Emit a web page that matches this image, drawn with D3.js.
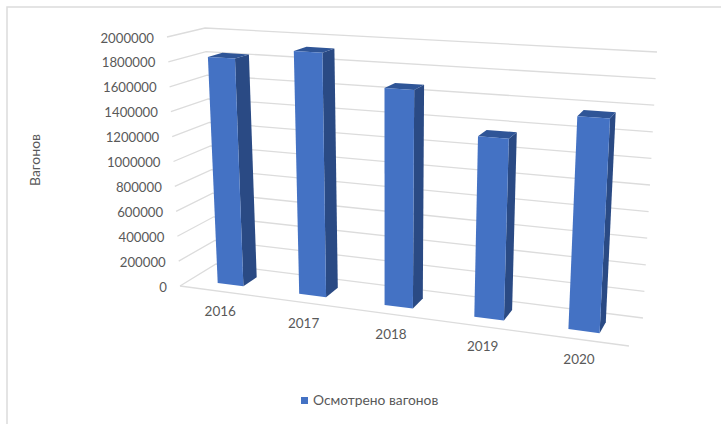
<!DOCTYPE html>
<html>
<head>
<meta charset="utf-8">
<script src="https://cdn.jsdelivr.net/npm/d3@7/dist/d3.min.js"></script>
<style>
html,body{margin:0;padding:0;background:#fff;}
svg{display:block;}
text{font-family:Lato,"Open Sans",sans-serif;fill:#595959;}
</style>
</head>
<body>
<svg id="chart" width="721" height="424"></svg>
<script>
const years = ["2016","2017","2018","2019","2020"];
const inspected = [1830000,1920000,1675000,1360000,1566000];
const valueTicks = [0,200000,400000,600000,800000,1000000,1200000,1400000,1600000,1800000,2000000];
const seriesName = "Осмотрено вагонов";
const axisTitle = "Вагонов";

// Screen corners of the 3-D plot box: floor and ceiling, front and back.
const box = {
  floor: {fl:[180,286], fr:[629,346], bl:[216,264], br:[643,318]},
  top:   {fl:[167,37],  fr:[645,65],  bl:[205,28],  br:[657,52]}
};

const mix = (a,b,t)=>[a[0]+(b[0]-a[0])*t, a[1]+(b[1]-a[1])*t];
const foreshorten = 1.128;

const heightScale = d3.scaleLinear().domain([0,2000000]).range([0,1]);
const catScale = d3.scaleBand().domain(years).range([0,1]).paddingInner(0.68).paddingOuter(0.34);

// u: along the categories, v: into the depth, w: up the value axis
function project(u,v,w){
  const s = u/(foreshorten-(foreshorten-1)*u);
  const lo = mix(mix(box.floor.fl,box.floor.fr,s), mix(box.floor.bl,box.floor.br,s), v);
  const hi = mix(mix(box.top.fl,box.top.fr,s), mix(box.top.bl,box.top.br,s), v);
  return mix(lo,hi,w);
}
const poly = pts => pts.map(p=>p.map(n=>n.toFixed(1)).join(",")).join(" ");
const svg = d3.select("#chart");

// Frame of the chart area: only its left and top edges fall inside the page
svg.append("path").attr("d","M7,424V7H721").attr("stroke","#dcdcdc").attr("stroke-width",1.5).attr("fill","none");

// Gridlines on the side wall and back wall, plus the front edge of the floor
const grid = svg.append("g").attr("fill","none").attr("stroke","#dcdcdc").attr("stroke-width",1.3);
valueTicks.forEach(t=>{
  const w = heightScale(t);
  grid.append("polyline").attr("points",poly([project(0,0,w),project(0,1,w),project(1,1,w)]));
});
grid.append("polyline").attr("points",poly([project(0,0,0),project(1,0,0)]));

// Value labels beside the side wall
svg.append("g").selectAll("text").data(valueTicks).join("text")
  .attr("x",d=>project(0,0,heightScale(d))[0]-13)
  .attr("y",d=>project(0,0,heightScale(d))[1]+5.5)
  .attr("text-anchor","end").attr("font-size",13.2)
  .text(d=>d);

// Bars: side, top and front faces
const depth0 = 0.3, depth1 = 0.7;
const bars = svg.append("g").selectAll("g").data(years).join("g");
bars.each(function(y,i){
  const g = d3.select(this);
  const a = catScale(y), b = a+catScale.bandwidth(), h = heightScale(inspected[i]);
  g.append("polygon").attr("fill","#2a4a84").attr("points",poly([project(b,depth0,0),project(b,depth1,0),project(b,depth1,h),project(b,depth0,h)]));
  g.append("polygon").attr("fill","#2f5597").attr("points",poly([project(a,depth0,h),project(b,depth0,h),project(b,depth1,h),project(a,depth1,h)]));
  g.append("polygon").attr("fill","#4472c4").attr("points",poly([project(a,depth0,0),project(b,depth0,0),project(b,depth0,h),project(a,depth0,h)]));
});

// Category labels under the front edge
svg.append("g").selectAll("text").data(years).join("text")
  .attr("x",d=>project(catScale(d)+catScale.bandwidth()/2,0,0)[0])
  .attr("y",d=>project(catScale(d)+catScale.bandwidth()/2,0,0)[1]+25)
  .attr("text-anchor","middle").attr("font-size",13.5)
  .text(d=>d);

svg.append("text").attr("transform","translate(40,160) rotate(-90)")
  .attr("text-anchor","middle").attr("font-size",14).text(axisTitle);

svg.append("rect").attr("x",301).attr("y",397).attr("width",7).attr("height",7).attr("fill","#4472c4");
svg.append("text").attr("x",313).attr("y",405).attr("font-size",13.8).text(seriesName);
</script>
</body>
</html>
